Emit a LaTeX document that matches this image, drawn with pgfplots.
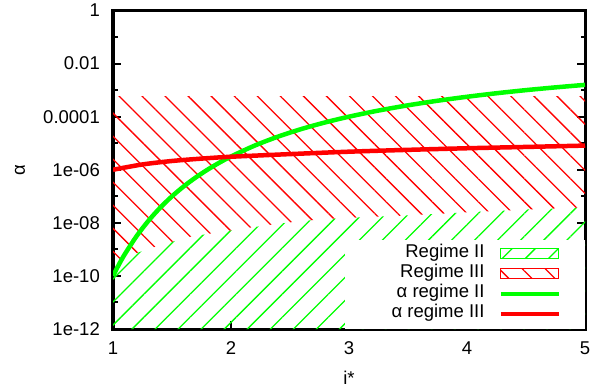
\documentclass[border=0pt]{standalone}
\usepackage{fontspec}
\setmainfont{Liberation Sans}
\usepackage{pgfplots}
\pgfplotsset{compat=1.18}
\usetikzlibrary{patterns.meta}
\definecolor{gpgreen}{RGB}{0,255,0}
\definecolor{gpred}{RGB}{255,0,0}
\newcommand\chartfont{\fontsize{18.5bp}{22bp}\selectfont}
\pgfplotsset{
  gp rect key/.style={legend image code/.code={\draw[##1, draw=#1, line width=1.3bp] (0bp,-5bp) rectangle (58bp,5bp);}},
  gp line key/.style={legend image code/.code={\draw[##1] (0bp,0bp) -- (58bp,0bp);}},
}

\begin{document}
\begin{tikzpicture}
\path[use as bounding box] (0,0) rectangle (607bp,392bp);
\begin{axis}[
  at={(113bp,63bp)}, anchor=south west,
  scale only axis, width=472bp, height=318.5bp,
  xmin=1, xmax=5,
  ymode=log, ymin=1e-12, ymax=1,
  xtick={1,2,3,4,5}, xticklabels={1,2,3,4,5},
  ytick={1e-12,1e-10,1e-8,1e-6,1e-4,1e-2,1},
  yticklabels={1e-12,1e-10,1e-08,1e-06,0.0001,0.01,1},
  minor ytick={1e-11,1e-9,1e-7,1e-5,1e-3,1e-1},
  xtick pos=left, ytick pos=both,
  tick align=inside,
  major tick length=8bp, minor tick length=4.5bp,
  every tick/.append style={black, line width=2bp},
  every minor tick/.append style={black, line width=2bp},
  axis line style={line width=3bp},
  tick label style={font=\chartfont},
  xticklabel style={inner sep=0pt, yshift=-12.5bp},
  yticklabel style={inner sep=0pt, xshift=-13bp},
  label style={font=\chartfont},
  xlabel={i*}, ylabel={α},
  xlabel style={at={(axis description cs:0.5,-0.1535)}, anchor=center},
  ylabel style={at={(axis description cs:-0.197,0.5)}, anchor=center},
  legend cell align=right,
  legend plot pos=right,
  legend style={font=\chartfont, draw=none, fill=none,
    at={(axis description cs:0.9492,0.270)}, anchor=north east,
    inner sep=0pt, outer sep=0pt, row sep=0pt, column sep=14bp,
    nodes={inner sep=0pt, text height=14bp, text depth=6.3bp}},
]
% Regime II: below the regime boundary
\addplot[draw=none, pattern={Lines[angle=45,distance=16.3bp,line width=1.3bp]}, pattern color=gpgreen,
  gp rect key=gpgreen]
  coordinates {(1,1e-12) (1,3.55e-10) (1.15,6.17e-10) (1.4,1.45e-9) (1.65,2.95e-9) (1.9,4.47e-9)
   (2.13,6.31e-9) (2.37,8.91e-9) (2.6,1.17e-8) (2.8,1.38e-8) (3,1.55e-8) (3.4,1.82e-8)
   (3.8,2.24e-8) (4.2,2.75e-8) (4.6,3.31e-8) (5,3.8e-8) (5,1e-12)} -- cycle;
\addlegendentry{Regime II}
% Regime III: between the boundary and the upper limit
\addplot[draw=none, pattern={Lines[angle=-45,distance=16.3bp,line width=1.3bp]}, pattern color=gpred,
  gp rect key=gpred]
  coordinates {(1,3.55e-10) (1.15,6.17e-10) (1.4,1.45e-9) (1.65,2.95e-9) (1.9,4.47e-9)
   (2.13,6.31e-9) (2.37,8.91e-9) (2.6,1.17e-8) (2.8,1.38e-8) (3,1.55e-8) (3.4,1.82e-8)
   (3.8,2.24e-8) (4.2,2.75e-8) (4.6,3.31e-8) (5,3.8e-8) (5,6e-4) (1,6e-4)} -- cycle;
\addlegendentry{Regime III}
% opaque key background
\addplot[draw=none, fill=white, forget plot]
  coordinates {(2.966,1e-12) (5,1e-12) (5,2.24e-9) (2.966,2.24e-9)} -- cycle;
% alpha in regime II
\addplot[gpgreen, line width=4.5bp, smooth, gp line key]
  coordinates {(1,1e-10) (1.05,2.68e-10) (1.1,6.58e-10) (1.2,3.16e-9) (1.3,1.19e-8) (1.4,3.73e-8)
   (1.5,1e-7) (1.6,2.37e-7) (1.7,5.08e-7) (1.8,1e-6) (1.9,1.83e-6) (2.0,3.16e-6)
   (2.2,8.11e-6) (2.4,1.78e-5) (2.6,3.46e-5) (2.8,6.11e-5) (3.0,1e-4) (3.25,1.70e-4)
   (3.5,2.68e-4) (3.75,3.98e-4) (4.0,5.62e-4) (4.25,7.63e-4) (4.5,1e-3) (4.75,1.27e-3) (5.0,1.58e-3)};
\addlegendentry{α regime II}
% alpha in regime III
\addplot[gpred, line width=4.5bp, smooth, gp line key]
  coordinates {(1,1e-6) (1.25,1.585e-6) (1.5,2.14e-6) (1.75,2.63e-6) (2.0,3.09e-6) (2.5,3.89e-6)
   (3.0,4.79e-6) (3.5,5.62e-6) (4.0,6.46e-6) (4.5,7.24e-6) (5.0,8.13e-6)};
\addlegendentry{α regime III}
\end{axis}
\end{tikzpicture}
\end{document}
